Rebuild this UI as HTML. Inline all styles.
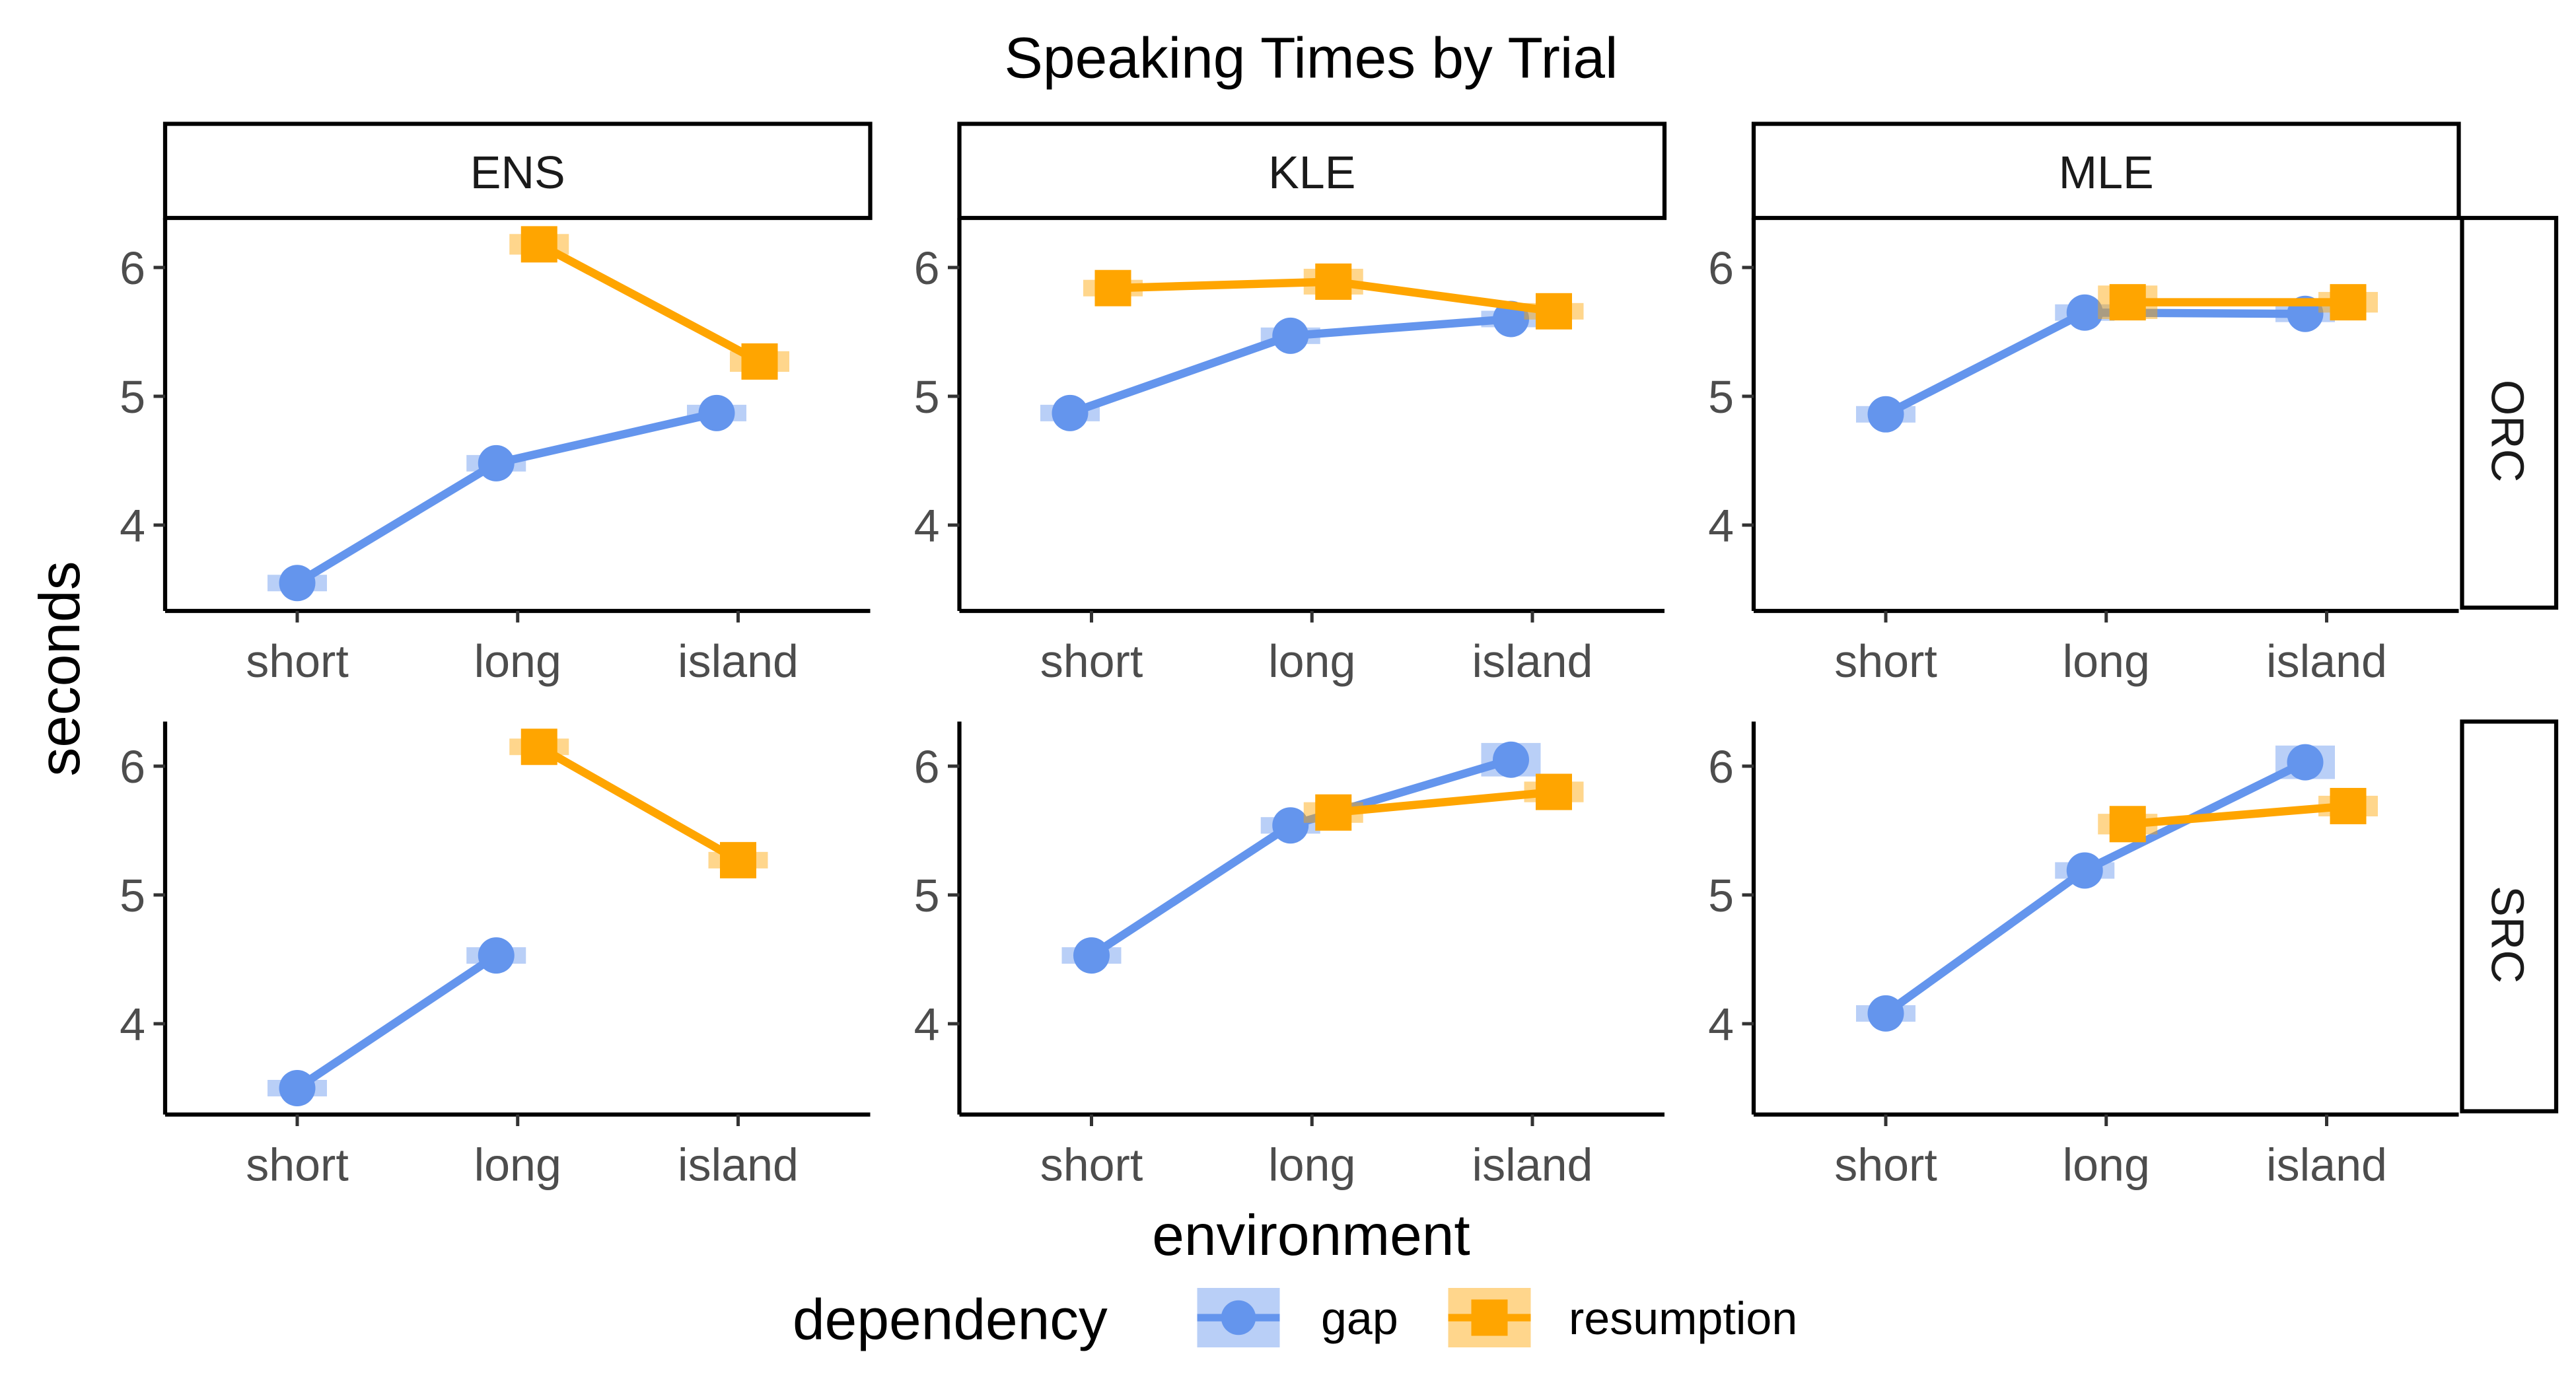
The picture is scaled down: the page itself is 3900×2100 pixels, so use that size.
<!DOCTYPE html>
<html><head><meta charset="utf-8"><style>
html,body{margin:0;padding:0;background:#fff}
svg{display:block}
text{font-family:"Liberation Sans",Arial,sans-serif}
</style></head><body>
<svg id="chart" width="3900" height="2100" viewBox="0 0 1560 840" xmlns="http://www.w3.org/2000/svg">
<rect width="1560" height="840" fill="#fff"/>
<text x="794" y="47" font-size="35" text-anchor="middle" fill="#000">Speaking Times by Trial</text>
<text transform="translate(48,405) rotate(-90)" font-size="35" text-anchor="middle" fill="#000">seconds</text>
<text x="794" y="760" font-size="35" text-anchor="middle" fill="#000">environment</text>
<g id="panels"></g>
<g>
<text x="480" y="811" font-size="35" fill="#000">dependency</text>
<g>
<rect x="725" y="780" width="50" height="36" fill="#6495ED" opacity="0.45"/>
<line x1="725" y1="798" x2="775" y2="798" stroke="#6495ED" stroke-width="4.5"/>
<circle cx="750" cy="798" r="10.5" fill="#6495ED"/>
<text x="800" y="808" font-size="28" fill="#000">gap</text>
</g>
<g>
<rect x="877" y="780" width="50" height="36" fill="#FFA500" opacity="0.45"/>
<line x1="877" y1="798" x2="927" y2="798" stroke="#FFA500" stroke-width="4.5"/>
<rect x="891" y="787" width="22" height="22" fill="#FFA500"/>
<text x="950" y="808" font-size="28" fill="#000">resumption</text>
</g>
</g>
</svg>
<script>
const categories = ["short","long","island"];
const languages = ["ENS","KLE","MLE"];
const clauses = ["ORC","SRC"];
const yTicks = [4,5,6];
const gapORC = [[3.55,4.48,4.87],[4.87,5.47,5.60],[4.86,5.65,5.64]];
const gapSRC = [[3.50,4.53,null],[4.53,5.54,6.05],[4.08,5.19,6.03]];
const resORC = [[null,6.18,5.27],[5.84,5.89,5.66],[null,5.73,5.73]];
const resSRC = [[null,6.15,5.27],[null,5.64,5.80],[null,5.55,5.69]];
const gapSeORC = [[0.05,0.05,0.05],[0.05,0.05,0.05],[0.05,0.05,0.05]];
const gapSeSRC = [[0.05,0.05,0],[0.05,0.05,0.13],[0.05,0.05,0.13]];
const resSeORC = [[0,0.08,0.08],[0.05,0.1,0.05],[0,0.13,0.08]];
const resSeSRC = [[0,0.05,0.05],[0,0.08,0.08],[0,0.08,0.08]];

const NS="http://www.w3.org/2000/svg";
const g=document.getElementById('panels');
function el(t,a,p){const e=document.createElementNS(NS,t);for(const k in a)e.setAttribute(k,a[k]);(p||g).appendChild(e);return e;}
const colX=[100,581,1062], pw=427;
const rowTop=[132,437], ph=238;
const y6=[162,464];
function xs(c,i,d){return colX[c]+80+i*133.5+d;}
function ys(r,v){return y6[r]+(6-v)*78;}
const GAP="#6495ED", RES="#FFA500";

languages.forEach((lang,c)=>{
  const s=el('g',{});
  
  
  el('rect',{x:colX[c],y:75,width:pw,height:57,fill:'#fff',stroke:'#000','stroke-width':2.5},s);
  const t=el('text',{x:colX[c]+pw/2,y:114,'font-size':28,'text-anchor':'middle',fill:'#1a1a1a'},s);t.textContent=lang;
});
clauses.forEach((cl,r)=>{
  const s=el('g',{});
  
  
  el('rect',{x:1491,y:rowTop[r],width:57,height:ph-2,fill:'#fff',stroke:'#000','stroke-width':2.5},s);
  const cy=rowTop[r]+ph/2;
  const t=el('text',{x:1519,y:cy,'font-size':28,'text-anchor':'middle',fill:'#1a1a1a',transform:`rotate(90 1509 ${cy})`},s);t.textContent=cl;
});

const data=[[gapORC,resORC,gapSeORC,resSeORC],[gapSRC,resSRC,gapSeSRC,resSeSRC]];
clauses.forEach((cl,r)=>{
  languages.forEach((lang,c)=>{
    const p=el('g',{});
    
    
    const bot=rowTop[r]+ph;
    el('line',{x1:colX[c],y1:rowTop[r],x2:colX[c],y2:bot,stroke:'#000','stroke-width':2.5},p);
    el('line',{x1:colX[c],y1:bot,x2:colX[c]+pw,y2:bot,stroke:'#000','stroke-width':2.5},p);
    yTicks.forEach(v=>{
      const y=ys(r,v);
      el('line',{x1:colX[c]-7,y1:y,x2:colX[c],y2:y,stroke:'#333','stroke-width':2},p);
      const t=el('text',{x:colX[c]-12,y:y+10,'font-size':28,'text-anchor':'end',fill:'#4d4d4d'},p);t.textContent=v;
      
      
    });
    categories.forEach((cat,i)=>{
      const x=xs(c,i,0);
      el('line',{x1:x,y1:bot,x2:x,y2:bot+7,stroke:'#333','stroke-width':2},p);
      const t=el('text',{x:x,y:bot+40,'font-size':28,'text-anchor':'middle',fill:'#4d4d4d'},p);t.textContent=cat;
      
      
    });
    const [gv,rv,gse,rse]=data[r];
    const gVals=gv[c], rVals=rv[c];
    [[gVals,rVals,gse[c],GAP,-13,'gap'],[rVals,gVals,rse[c],RES,13,'resumption']].forEach(([vals,other,se,col,d,name])=>{
      const sg=el('g',{},p);
      
      
      const dx=i=> other[i]==null?0:d;
      vals.forEach((v,i)=>{ if(v==null)return;
        const h=Math.max(se[i]*78*2,10);
        el('rect',{x:xs(c,i,dx(i))-18,y:ys(r,v)-h/2,width:36,height:h,fill:col,opacity:0.45},sg);
      });
      let pts=[];
      vals.forEach((v,i)=>{ if(v!=null) pts.push(xs(c,i,dx(i))+','+ys(r,v)); });
      if(pts.length>1) el('polyline',{points:pts.join(' '),fill:'none',stroke:col,'stroke-width':5},sg);
      vals.forEach((v,i)=>{ if(v==null)return;
        const x=xs(c,i,dx(i)), y=ys(r,v);
        let m;
        if(name==='gap') m=el('circle',{cx:x,cy:y,r:11,fill:col},sg);
        else m=el('rect',{x:x-11,y:y-11,width:22,height:22,fill:col},sg);
        
        
      });
    });
  });
});
</script>
</body></html>
